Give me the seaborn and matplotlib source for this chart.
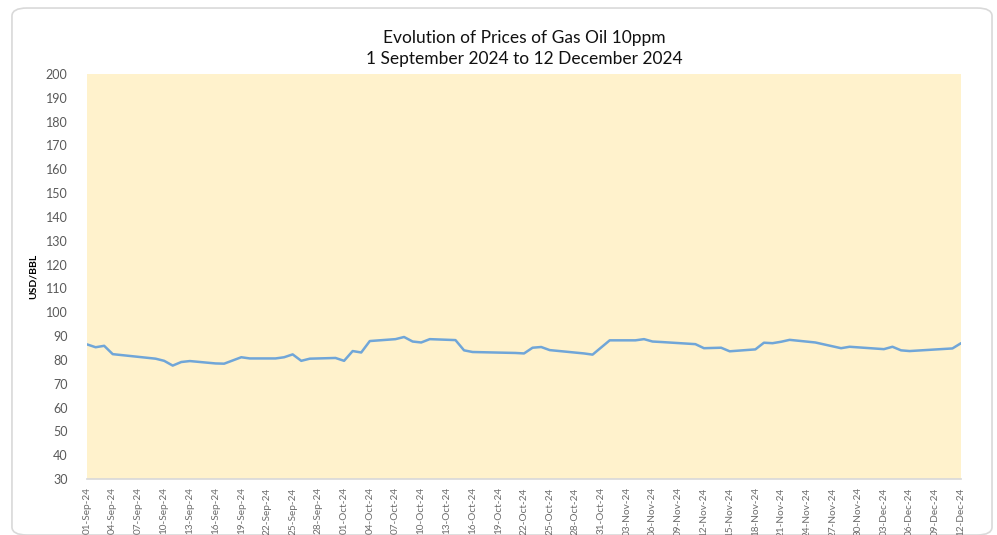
import numpy as np
import pandas as pd
import seaborn as sns
import matplotlib.pyplot as plt
import matplotlib.dates as mdates
from matplotlib.patches import FancyBboxPatch

# price points (USD/BBL)
dates = ["2024-09-01", "2024-09-02", "2024-09-03", "2024-09-04", "2024-09-09",
         "2024-09-10", "2024-09-11", "2024-09-12", "2024-09-13", "2024-09-16",
         "2024-09-17", "2024-09-19", "2024-09-20", "2024-09-23", "2024-09-24",
         "2024-09-25", "2024-09-26", "2024-09-27", "2024-09-30", "2024-10-01",
         "2024-10-02", "2024-10-03", "2024-10-04", "2024-10-07", "2024-10-08",
         "2024-10-09", "2024-10-10", "2024-10-11", "2024-10-14", "2024-10-15",
         "2024-10-16", "2024-10-21", "2024-10-22", "2024-10-23", "2024-10-24",
         "2024-10-25", "2024-10-29", "2024-10-30", "2024-11-01", "2024-11-04",
         "2024-11-05", "2024-11-06", "2024-11-07", "2024-11-11", "2024-11-12",
         "2024-11-14", "2024-11-15", "2024-11-18", "2024-11-19", "2024-11-20",
         "2024-11-21", "2024-11-22", "2024-11-25", "2024-11-28", "2024-11-29",
         "2024-12-03", "2024-12-04", "2024-12-05", "2024-12-06", "2024-12-11",
         "2024-12-12"]
prices = [86.5, 85.3, 85.9, 82.4, 80.5,
          79.6, 77.6, 79.1, 79.5, 78.5,
          78.4, 81.1, 80.6, 80.6, 81.1,
          82.3, 79.6, 80.5, 80.8, 79.6,
          83.7, 83.1, 87.9, 88.7, 89.6,
          87.7, 87.3, 88.7, 88.3, 84.0,
          83.3, 82.9, 82.7, 85.1, 85.4,
          84.1, 82.7, 82.2, 88.2, 88.2,
          88.7, 87.7, 87.5, 86.6, 84.9,
          85.1, 83.6, 84.4, 87.2, 87.0,
          87.6, 88.4, 87.3, 84.9, 85.5,
          84.5, 85.5, 84.0, 83.7, 84.8,
          87.0]

df = pd.DataFrame({"date": pd.to_datetime(dates), "price": prices})

sns.set_theme(style="white")
plt.rcParams["font.family"] = ["Lato", "DejaVu Sans"]

fig = plt.figure(figsize=(9.97, 5.35), dpi=100)
fig.patch.set_facecolor("white")
ax = fig.add_axes([0.0873, 0.1047, 0.8766, 0.757])

# card outline behind the chart
card = FancyBboxPatch((0.012, 0.0), 0.983, 0.985, boxstyle="round,pad=0,rounding_size=0.015",
                      transform=fig.transFigure, facecolor="none", edgecolor="#d9d9d9",
                      linewidth=1.2, zorder=-1)
fig.patches.append(card)

ax.set_facecolor("#fff2cc")
sns.lineplot(data=df, x="date", y="price", ax=ax, color="#70a6d8", linewidth=1.8)

ax.set_ylim(30, 200)
ax.set_yticks(np.arange(30, 201, 10))
ax.set_xlim(pd.Timestamp("2024-09-01"), pd.Timestamp("2024-12-12"))
ticks = pd.date_range("2024-09-01", "2024-12-12", freq="3D")
ax.set_xticks(ticks)
ax.xaxis.set_major_formatter(mdates.DateFormatter("%d-%b-%y"))
ax.tick_params(axis="x", labelrotation=90, labelsize=7.2, colors="#6b6b6b",
               length=3, width=0.6, direction="in", pad=6)
ax.tick_params(axis="y", labelsize=9, colors="#595959", length=0, pad=14)
for lab in ax.get_xticklabels():
    lab.set_color("#6b6b6b")

for s in ["top", "right", "left"]:
    ax.spines[s].set_visible(False)
ax.spines["bottom"].set_color("#d9d9d9")

ax.set_xlabel("")
ax.set_ylabel("USD/BBL", fontsize=7.5, fontweight="bold", color="black", labelpad=6)
ax.set_title("Evolution of Prices of Gas Oil 10ppm\n1 September 2024 to 12 December 2024",
             fontsize=12.5, color="#111111", pad=7, linespacing=1.4)

fig.savefig("out.png", dpi=100)
